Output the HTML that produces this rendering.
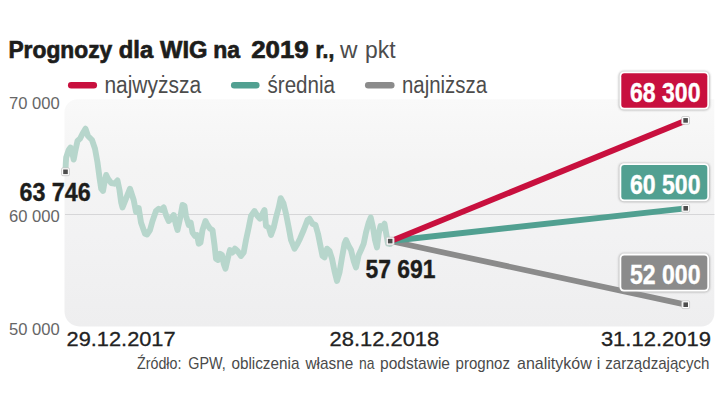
<!DOCTYPE html>
<html lang="pl">
<head>
<meta charset="utf-8">
<title>Prognozy dla WIG na 2019 r.</title>
<style>
html,body{margin:0;padding:0;background:#fff;}
body{width:720px;height:405px;overflow:hidden;font-family:"Liberation Sans",sans-serif;}
svg{display:block;}
text{font-family:"Liberation Sans",sans-serif;}
.b{font-weight:bold;}
</style>
</head>
<body>
<svg width="720" height="405" viewBox="0 0 720 405">
<defs>
<linearGradient id="bg" x1="0" y1="0" x2="0" y2="1">
<stop offset="0" stop-color="#f9f9f9"/>
<stop offset="0.3" stop-color="#f4f4f4"/>
<stop offset="0.6" stop-color="#f2f2f3"/>
<stop offset="1" stop-color="#eeeeef"/>
</linearGradient>
<filter id="sh" x="-10%" y="-20%" width="120%" height="140%">
<feGaussianBlur stdDeviation="0.9"/>
</filter>
</defs>
<!-- chart background -->
<path d="M77.5 99.3 H714.3 V313.5 a13 13 0 0 1 -13 13 H79.5 a15 15 0 0 1 -15 -15 V112.3 a13 13 0 0 1 13 -13 Z" fill="url(#bg)"/>
<!-- gridline -->
<line x1="65" y1="214.5" x2="714.5" y2="214.5" stroke="#d6d6d8" stroke-width="1"/>

<!-- title -->
<text id="t0" class="b" x="8.4" y="57.7" font-size="24.2" fill="#1d1d1b" textLength="103.9" lengthAdjust="spacingAndGlyphs" stroke="#1d1d1b" stroke-width="0.7">Prognozy</text>
<text id="t1" class="b" x="118.8" y="57.7" font-size="24.2" fill="#1d1d1b" textLength="34.4" lengthAdjust="spacingAndGlyphs" stroke="#1d1d1b" stroke-width="0.7">dla</text>
<text id="t2" class="b" x="160" y="57.7" font-size="24.2" fill="#1d1d1b" textLength="47.5" lengthAdjust="spacingAndGlyphs" stroke="#1d1d1b" stroke-width="0.7">WIG</text>
<text id="t3" class="b" x="213.2" y="57.7" font-size="24.2" fill="#1d1d1b" textLength="26.8" lengthAdjust="spacingAndGlyphs" stroke="#1d1d1b" stroke-width="0.7">na</text>
<text id="t4" class="b" x="251.25" y="57.7" font-size="24.2" fill="#1d1d1b" textLength="57.5" lengthAdjust="spacingAndGlyphs" stroke="#1d1d1b" stroke-width="0.7">2019</text>
<text id="t5" class="b" x="315.6" y="57.7" font-size="24.2" fill="#1d1d1b" textLength="18.6" lengthAdjust="spacingAndGlyphs" stroke="#1d1d1b" stroke-width="0.7">r.,</text>
<text id="u0" x="340" y="57.7" font-size="23.5" fill="#4c4c4c" textLength="17.5" lengthAdjust="spacingAndGlyphs">w</text>
<text id="u1" x="365" y="57.7" font-size="23.5" fill="#4c4c4c" textLength="30.5" lengthAdjust="spacingAndGlyphs">pkt</text>

<!-- legend -->
<line x1="71.2" y1="85.3" x2="93.8" y2="85.3" stroke="#c8103e" stroke-width="6.5" stroke-linecap="round"/>
<text id="l1" x="104.4" y="92.8" font-size="23" fill="#4c4c4c" textLength="96.7" lengthAdjust="spacingAndGlyphs">najwyższa</text>
<line x1="234.2" y1="85.3" x2="256.3" y2="85.3" stroke="#51a091" stroke-width="6.5" stroke-linecap="round"/>
<text id="l2" x="267.5" y="92.8" font-size="23" fill="#4c4c4c" textLength="67.5" lengthAdjust="spacingAndGlyphs">średnia</text>
<line x1="368.2" y1="85.3" x2="391.3" y2="85.3" stroke="#8b8b8b" stroke-width="6.5" stroke-linecap="round"/>
<text id="l3" x="402" y="92.8" font-size="23" fill="#4c4c4c" textLength="85" lengthAdjust="spacingAndGlyphs">najniższa</text>

<!-- y axis -->
<text id="y1" x="9" y="108.8" font-size="16" fill="#666" textLength="50.7" lengthAdjust="spacingAndGlyphs">70 000</text>
<text id="y2" x="9" y="222.2" font-size="16" fill="#666" textLength="50.7" lengthAdjust="spacingAndGlyphs">60 000</text>
<text id="y3" x="9" y="335.2" font-size="16" fill="#666" textLength="50.7" lengthAdjust="spacingAndGlyphs">50 000</text>

<!-- history line -->
<polyline id="hist" fill="none" stroke="#b7d6cc" stroke-width="5.9" stroke-linejoin="round" stroke-linecap="round" points="65.5,170 65.8,163 66.2,157.5 68.7,150 70.5,147.5 72.5,154 73.7,159.5 75.5,150 77.5,141 80,138.7 82.5,133.7 85.5,128.7 88,136 92,140 95,148.7 97.5,162.5 99.5,177.5 101.2,188.7 103,191 104.5,182.5 106.2,175 108,178.7 111.2,183 114.5,183.7 117.5,180.5 119.5,190 121.2,202.5 122.5,207.5 126,198.7 130,188.7 133.7,200 136,212 138.7,208 141,222.5 145,233.7 147,234.5 150,230 152.5,221 156,211 158.7,208.7 161,210 163.7,207.5 166,215 168.7,221 171,219 173.7,215 176,225 177.5,230 180,218.7 182.5,205 184.5,206 186,216 188.7,225 190.7,222.5 192.5,232.5 195,236 197,235 198.7,243.7 200.5,242.5 202.5,230 205.5,221 207.5,225 210,228.7 212.5,230 214.5,245 216,258.7 218,260 220,253.7 222,255 223.7,263.7 225.5,268.7 228,257.5 230,250 232.5,252.5 235,248.7 237.5,251 241,256 243.7,252.5 246,240 248.7,227.5 251,216 254.5,211 257.5,216 260,218.7 262.5,213.7 264.5,210 266,226 268.7,227.5 271,235 273.7,227.5 276,217.5 278.7,207.5 280.7,198.2 283.5,203.5 286,213.7 288.7,227.5 291,240 294.5,248.7 297.5,243.7 300,238.7 303.7,230 307.5,220 309.5,218.7 312.5,223.7 315.5,225 318,233.7 320,243.7 322.5,256 324.5,257.5 327,248.7 329.5,251 332,258.7 334.5,271 337,281 339.5,272.5 342,257.5 344.5,243.7 346,240 348.7,246 351,250 353.7,261 356,267.5 358.7,255 361,250 363.7,243.7 366,232.5 368.7,222.5 370.7,217.5 373,227.5 375,240 377,247.5 378.7,233.7 380.5,226 382.5,227 384.5,223.7 386,232.5 388,243.7 390,244"/>

<!-- forecast lines -->
<line x1="390.2" y1="241" x2="685.7" y2="304.7" stroke="#8b8b8b" stroke-width="5.8"/>
<line x1="390.2" y1="241" x2="685.7" y2="208.3" stroke="#51a091" stroke-width="5.8"/>
<line x1="390.2" y1="241.4" x2="685.5" y2="120.7" stroke="#c8103e" stroke-width="5.8"/>

<!-- markers -->
<g id="mk">
<rect x="61.6" y="167.9" width="7.8" height="7.8" rx="1.2" fill="#fff" stroke="#c4c4c4" stroke-width="0.8"/><rect x="63.2" y="169.5" width="4.6" height="4.6" fill="#4d4d4d"/>
<rect x="386.3" y="237.2" width="7.8" height="7.8" rx="1.2" fill="#fff" stroke="#c4c4c4" stroke-width="0.8"/><rect x="387.9" y="238.8" width="4.6" height="4.6" fill="#4d4d4d"/>
<rect x="681.7" y="116.5" width="7.8" height="7.8" rx="1.2" fill="#fff" stroke="#c4c4c4" stroke-width="0.8"/><rect x="683.3" y="118.1" width="4.6" height="4.6" fill="#4d4d4d"/>
<rect x="681.8" y="204.4" width="7.8" height="7.8" rx="1.2" fill="#fff" stroke="#c4c4c4" stroke-width="0.8"/><rect x="683.4" y="206.0" width="4.6" height="4.6" fill="#4d4d4d"/>
<rect x="681.8" y="300.8" width="7.8" height="7.8" rx="1.2" fill="#fff" stroke="#c4c4c4" stroke-width="0.8"/><rect x="683.4" y="302.4" width="4.6" height="4.6" fill="#4d4d4d"/>
</g>

<!-- value labels -->
<text id="v1" class="b" x="19.5" y="201.2" font-size="25.5" fill="#1d1d1b" textLength="71.2" lengthAdjust="spacingAndGlyphs" stroke="#1d1d1b" stroke-width="0.4">63 746</text>
<text id="v2" class="b" x="365.5" y="277.8" font-size="25.5" fill="#1d1d1b" textLength="70" lengthAdjust="spacingAndGlyphs" stroke="#1d1d1b" stroke-width="0.4">57 691</text>

<!-- boxes -->
<g>
<rect x="618.8" y="71.2" width="91" height="39" rx="5" fill="#9a9a9a" filter="url(#sh)" opacity="0.75"/>
<rect x="619.5" y="71.5" width="89.5" height="38" rx="4.5" fill="#fff"/>
<rect x="621.3" y="73.3" width="86" height="34.4" rx="3" fill="#c8103e"/>
<text id="b1" class="b" x="630" y="102.1" font-size="28" fill="#fff" textLength="70.5" lengthAdjust="spacingAndGlyphs" stroke="#fff" stroke-width="0.4">68 300</text>
</g>
<g>
<rect x="618.8" y="162.9" width="91" height="39" rx="5" fill="#9a9a9a" filter="url(#sh)" opacity="0.75"/>
<rect x="619.5" y="163.2" width="89.5" height="38" rx="4.5" fill="#fff"/>
<rect x="621.3" y="165.0" width="86" height="34.4" rx="3" fill="#51a091"/>
<text id="b2" class="b" x="630" y="193.79999999999998" font-size="28" fill="#fff" textLength="70.5" lengthAdjust="spacingAndGlyphs" stroke="#fff" stroke-width="0.4">60 500</text>
</g>
<g>
<rect x="618.8" y="253.3" width="91" height="39" rx="5" fill="#9a9a9a" filter="url(#sh)" opacity="0.75"/>
<rect x="619.5" y="253.6" width="89.5" height="38" rx="4.5" fill="#fff"/>
<rect x="621.3" y="255.4" width="86" height="34.4" rx="3" fill="#8b8b8b"/>
<text id="b3" class="b" x="630" y="284.2" font-size="28" fill="#fff" textLength="70.5" lengthAdjust="spacingAndGlyphs" stroke="#fff" stroke-width="0.4">52 000</text>
</g>

<!-- x axis -->
<text id="x1" x="66.6" y="346.3" font-size="21" fill="#222" textLength="109" lengthAdjust="spacingAndGlyphs" stroke="#222" stroke-width="0.3">29.12.2017</text>
<text id="x2" x="329.6" y="346.3" font-size="21" fill="#222" textLength="109.6" lengthAdjust="spacingAndGlyphs" stroke="#222" stroke-width="0.3">28.12.2018</text>
<text id="x3" x="600.9" y="346.3" font-size="21" fill="#222" textLength="110" lengthAdjust="spacingAndGlyphs" stroke="#222" stroke-width="0.3">31.12.2019</text>

<!-- source -->
<text id="s0" x="137" y="368.6" font-size="16.4" fill="#4a4a4a" textLength="44.4" lengthAdjust="spacingAndGlyphs">Źródło:</text>
<text id="s1" x="188.3" y="368.6" font-size="16.4" fill="#4a4a4a" textLength="37.5" lengthAdjust="spacingAndGlyphs">GPW,</text>
<text id="s2" x="231.4" y="368.6" font-size="16.4" fill="#4a4a4a" textLength="68.0" lengthAdjust="spacingAndGlyphs">obliczenia</text>
<text id="s3" x="305.5" y="368.6" font-size="16.4" fill="#4a4a4a" textLength="47.8" lengthAdjust="spacingAndGlyphs">własne</text>
<text id="s4" x="358.9" y="368.6" font-size="16.4" fill="#4a4a4a" textLength="15.5" lengthAdjust="spacingAndGlyphs">na</text>
<text id="s5" x="380" y="368.6" font-size="16.4" fill="#4a4a4a" textLength="70" lengthAdjust="spacingAndGlyphs">podstawie</text>
<text id="s6" x="455.6" y="368.6" font-size="16.4" fill="#4a4a4a" textLength="54.4" lengthAdjust="spacingAndGlyphs">prognoz</text>
<text id="s7" x="517" y="368.6" font-size="16.4" fill="#4a4a4a" textLength="74.7" lengthAdjust="spacingAndGlyphs">analityków</text>
<text id="s8" x="596.7" y="368.6" font-size="16.4" fill="#4a4a4a" textLength="3.6" lengthAdjust="spacingAndGlyphs">i</text>
<text id="s9" x="605.3" y="368.6" font-size="16.4" fill="#4a4a4a" textLength="104.1" lengthAdjust="spacingAndGlyphs">zarządzających</text>
</svg>
</body>
</html>
